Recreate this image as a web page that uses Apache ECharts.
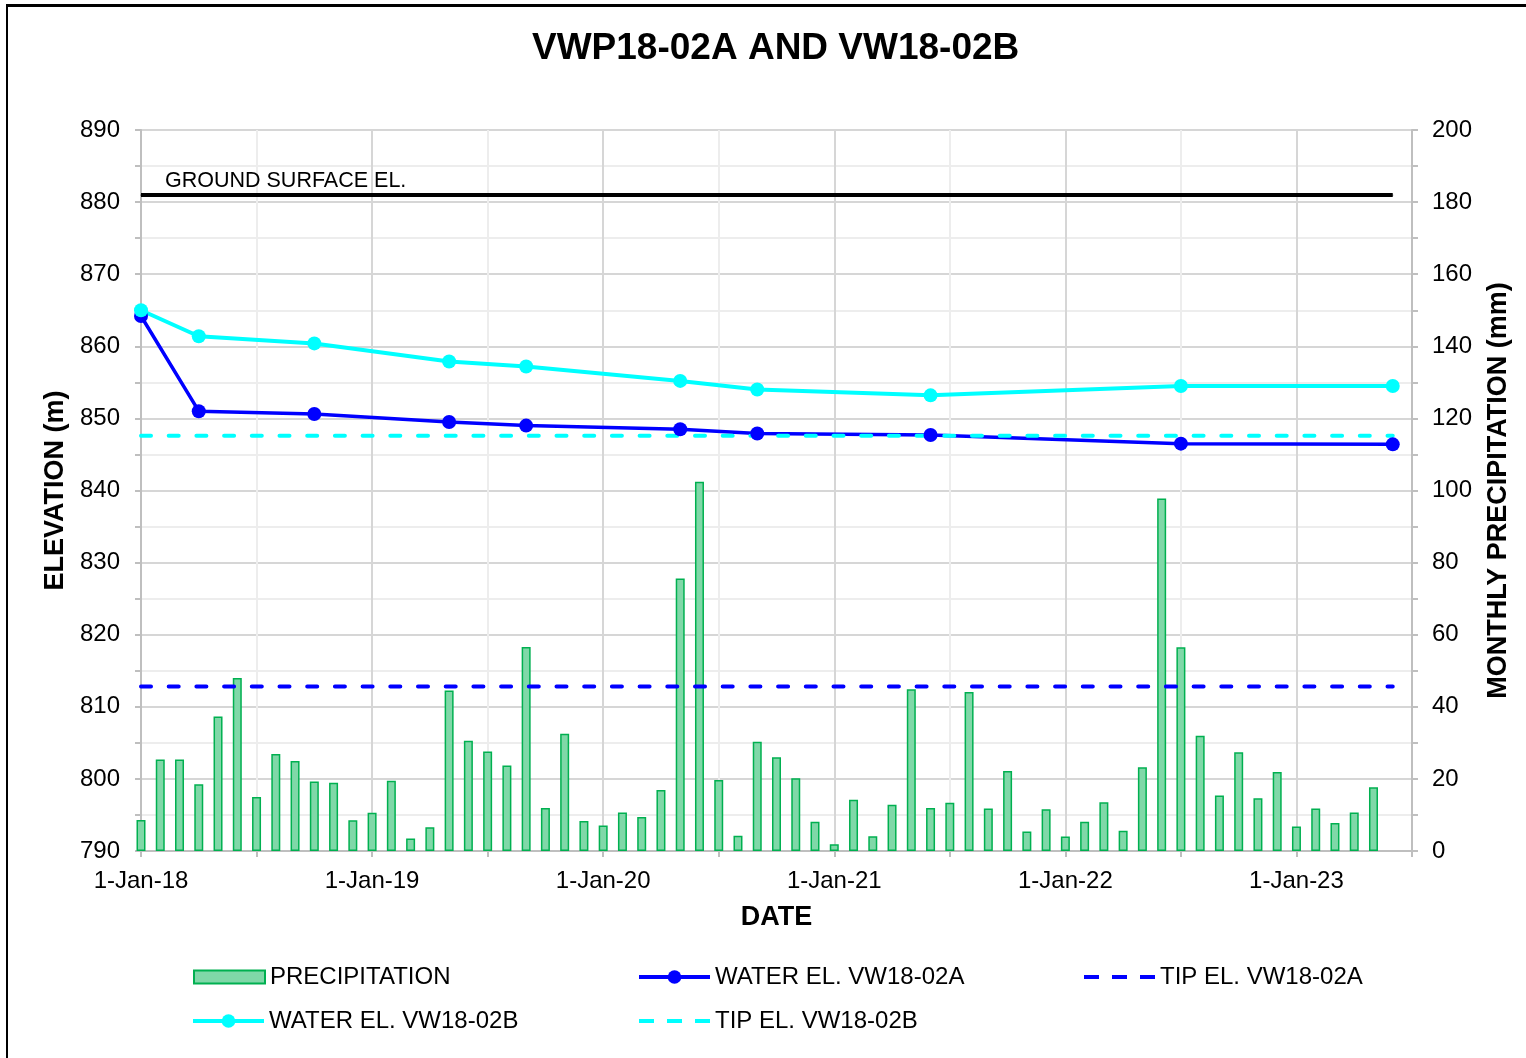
<!DOCTYPE html>
<html><head><meta charset="utf-8">
<script src="https://cdn.jsdelivr.net/npm/echarts@6/dist/echarts.min.js"></script>
<style>
html,body{margin:0;padding:0;background:#fff;overflow:hidden;}
#c{position:absolute;left:0;top:0;width:1526px;height:1058px;}
#frame{position:absolute;left:6px;top:4px;width:1600px;height:1200px;border-left:2px solid #000;border-top:3px solid #000;pointer-events:none;}
</style></head><body>
<div id="c"></div><div id="frame"></div>
<script>
// ---- data ----
const firstPrecipMonth = '2018-01';
const precipitation = [8.6, 25.4, 25.4, 18.5, 37.3, 48.0, 15.0, 26.9, 25.0, 19.3,
  18.9, 8.5, 10.6, 19.5, 3.5, 6.6, 44.5, 30.6, 27.6, 23.7,
  56.6, 11.9, 32.5, 8.3, 7.1, 10.7, 9.4, 16.9, 75.6, 102.4,
  19.7, 4.2, 30.3, 26.0, 20.2, 8.1, 1.9, 14.2, 4.1, 12.8,
  44.9, 11.9, 13.4, 44.1, 11.8, 22.2, 5.4, 11.6, 4.0, 8.1,
  13.5, 5.6, 23.2, 97.8, 56.5, 32.0, 15.4, 27.4, 14.6, 21.9,
  6.8, 11.8, 7.8, 10.7, 17.7];
const waterDates = ['2018-01','2018-04','2018-10','2019-05','2019-09','2020-05','2020-09','2021-06','2022-07','2023-06'];
const waterA = [864.2, 851.0, 850.6, 849.5, 849.0, 848.5, 847.9, 847.7, 846.5, 846.4];
const waterB = [865.0, 861.4, 860.4, 857.9, 857.2, 855.2, 854.0, 853.2, 854.5, 854.5];
const refDates = ['2018-01','2023-06'];
const groundEl = [881, 881];
const tipA = [812.8, 812.8];
const tipB = [847.6, 847.6];
const xTickLabels = ['1-Jan-18','1-Jan-19','1-Jan-20','1-Jan-21','1-Jan-22','1-Jan-23'];

// ---- helpers ----
function monthIndex(s){ const [y,m]=s.split('-').map(Number); return (y-2018)*12+(m-1); }
const p0 = monthIndex(firstPrecipMonth);
const precipData = precipitation.map((v,i)=>[p0+i, v]);
const pair = (dates, vals) => dates.map((d,i)=>[monthIndex(d), vals[i]]);

const FONT = "'Liberation Sans', Arial, sans-serif";
const axisGrey = '#bfbfbf';

const chart = echarts.init(document.getElementById('c'), null, {renderer:'canvas'});
const legendBase = {itemWidth:71, itemHeight:17, itemGap:0, textStyle:{fontFamily:FONT, fontSize:24, color:'#000'}, selectedMode:false};
const dashLegend = (name, color) => ({name, itemStyle:{opacity:0}, lineStyle:{color, width:4, type:[15,13], cap:'butt'}});
const lineLegend = (name, color) => ({name, lineStyle:{color, width:4}});
chart.setOption({
  animation:false,
  backgroundColor:'#fff',
  title:{text:'VWP18-02A AND VW18-02B', left:527, top:25,
    textStyle:{fontFamily:FONT, fontSize:37, fontWeight:'bold', color:'#000'}},
  grid:{left:141, right:114, top:130, bottom:207, containLabel:false},
  legend:[
    Object.assign({}, legendBase, {left:188, top:960, itemHeight:13, data:[{name:'PRECIPITATION', icon:'rect'}]}),
    Object.assign({}, legendBase, {left:632, top:960, data:[lineLegend('WATER EL. VW18-02A','#0000ff')]}),
    Object.assign({}, legendBase, {left:1077, top:960, data:[dashLegend('TIP EL. VW18-02A','#0000ff')]}),
    Object.assign({}, legendBase, {left:186, top:1004, data:[lineLegend('WATER EL. VW18-02B','#00ffff')]}),
    Object.assign({}, legendBase, {left:632, top:1004, data:[dashLegend('TIP EL. VW18-02B','#00ffff')]})
  ],
  xAxis:{type:'value', min:0, max:66, interval:6,
    name:'DATE', nameLocation:'middle', nameGap:53,
    nameTextStyle:{fontFamily:FONT, fontSize:27, fontWeight:'bold', color:'#000'},
    axisLine:{onZero:false, lineStyle:{color:axisGrey, width:2}},
    axisTick:{show:true, length:6, lineStyle:{color:axisGrey, width:2}},
    axisLabel:{margin:18, fontFamily:FONT, fontSize:24, color:'#000',
      formatter:v => (v%12===0 && xTickLabels[v/12]) ? xTickLabels[v/12] : ''},
    splitLine:{show:true, lineStyle:{color:['#d6d6d6','#ededed'], width:2}}
  },
  yAxis:[
    {type:'value', min:790, max:890, interval:5, position:'left',
      name:'ELEVATION (m)', nameLocation:'middle', nameGap:68, nameRotate:90,
      nameTextStyle:{fontFamily:FONT, fontSize:27, fontWeight:'bold', color:'#000'},
      axisLine:{show:true, onZero:false, lineStyle:{color:axisGrey, width:2}},
      axisTick:{show:true, length:6, lineStyle:{color:axisGrey, width:2}},
      axisLabel:{margin:21, fontFamily:FONT, fontSize:24, color:'#000',
        formatter:v => v%10===0 ? String(v) : ''},
      splitLine:{show:true, lineStyle:{color:['#d6d6d6','#ededed'], width:2}}
    },
    {type:'value', min:0, max:200, interval:10, position:'right',
      name:'MONTHLY PRECIPITATION (mm)', nameLocation:'middle', nameGap:73, nameRotate:90,
      nameTextStyle:{fontFamily:FONT, fontSize:27, fontWeight:'bold', color:'#000'},
      axisLine:{show:true, onZero:false, lineStyle:{color:axisGrey, width:2}},
      axisTick:{show:true, length:6, lineStyle:{color:axisGrey, width:2}},
      axisLabel:{margin:20, fontFamily:FONT, fontSize:24, color:'#000',
        formatter:v => v%20===0 ? String(v) : ''},
      splitLine:{show:false}
    }
  ],
  series:[
    {name:'PRECIPITATION', type:'bar', xAxisIndex:0, yAxisIndex:1, data:precipData,
      barWidth:9, clip:true,
      itemStyle:{color:'#80d8a8', borderColor:'#00b050', borderWidth:1.5}},
    {name:'GROUND', type:'line', yAxisIndex:0,
      data:pair(refDates, groundEl).map((p,i)=> i===0 ? {value:p,
        label:{show:true, position:'top', align:'left', offset:[24,2], distance:4,
          formatter:'GROUND SURFACE EL.', fontFamily:FONT, fontSize:21.5, color:'#000'}} : p),
      symbol:'circle', symbolSize:1, showSymbol:true,
      lineStyle:{color:'#000', width:4}, itemStyle:{color:'#000'}},
    {name:'WATER EL. VW18-02A', type:'line', yAxisIndex:0, data:pair(waterDates, waterA),
      symbol:'circle', symbolSize:14, lineStyle:{color:'#0000ff', width:3.5}, itemStyle:{color:'#0000ff'}},
    {name:'TIP EL. VW18-02A', type:'line', yAxisIndex:0, data:pair(refDates, tipA),
      symbol:'none', lineStyle:{color:'#0000ff', width:4, type:[10,17.7], cap:'round'}, itemStyle:{color:'#0000ff'}},
    {name:'WATER EL. VW18-02B', type:'line', yAxisIndex:0, data:pair(waterDates, waterB),
      symbol:'circle', symbolSize:14, lineStyle:{color:'#00ffff', width:4}, itemStyle:{color:'#00ffff'}},
    {name:'TIP EL. VW18-02B', type:'line', yAxisIndex:0, data:pair(refDates, tipB),
      symbol:'none', lineStyle:{color:'#00ffff', width:4, type:[10,17.7], cap:'round'}, itemStyle:{color:'#00ffff'}}
  ]
});
</script>
</body></html>
